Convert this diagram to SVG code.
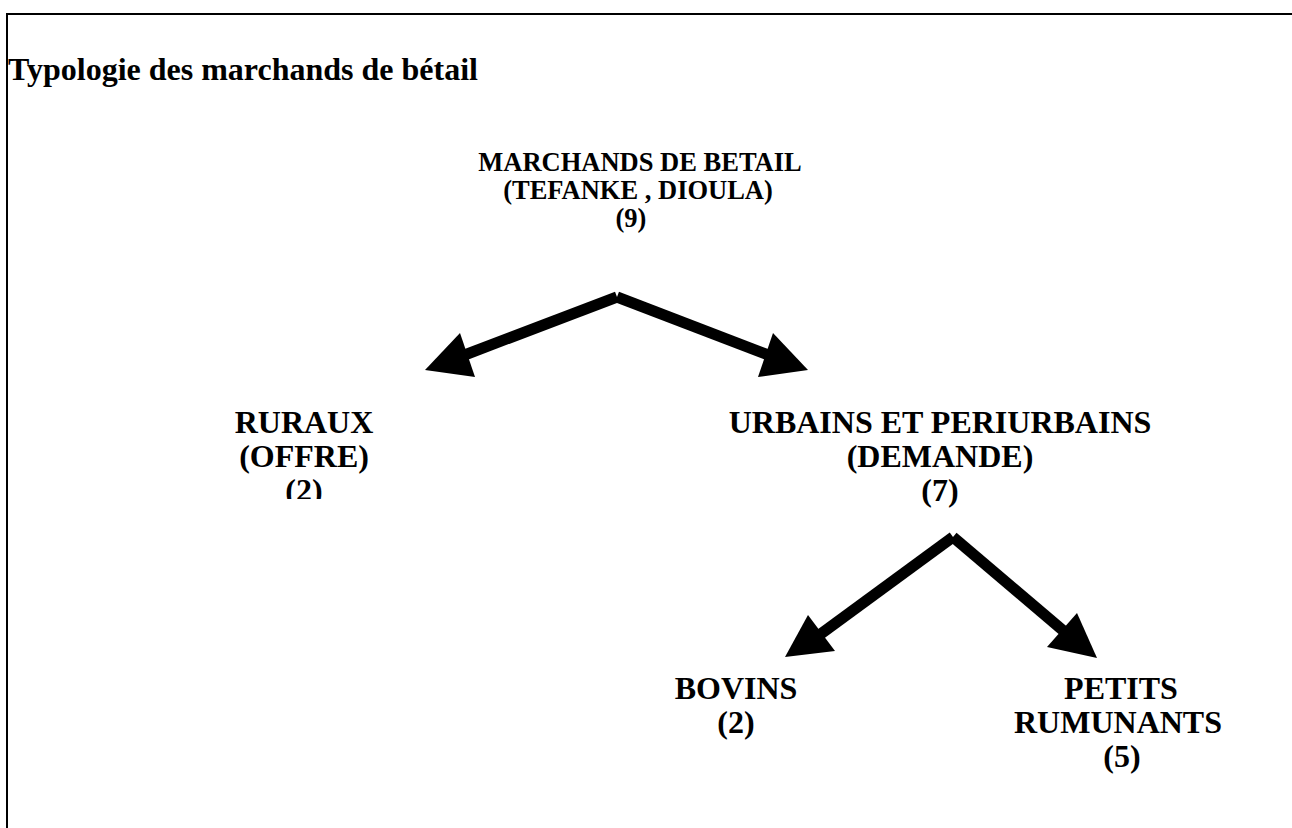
<svg xmlns="http://www.w3.org/2000/svg" width="1292" height="828" viewBox="0 0 1292 828">
  <style>
    .frame { stroke: #000; stroke-width: 2; fill: none; }
    .title { font-family: "Liberation Serif", "Times New Roman", serif; font-weight: bold; font-size: 32px; fill: #000; }
    .lbl { font-family: "Liberation Serif", "Times New Roman", serif; font-weight: bold; font-size: 32px; fill: #000; text-anchor: middle; }
    .lbl-sm { font-family: "Liberation Serif", "Times New Roman", serif; font-weight: bold; font-size: 26.5px; fill: #000; text-anchor: middle; }
    .shaft { stroke: #000; stroke-width: 11; fill: none; stroke-linecap: butt; }
    .head { fill: #000; stroke: none; }
  </style>
  <defs>
    <!-- the RURAUX text box cuts off the bottom of its last line -->
    <clipPath id="clip-ruraux">
      <rect x="150" y="380" width="320" height="119"/>
    </clipPath>
  </defs>
  <rect width="1292" height="828" fill="#fff"/>

  <!-- page frame: top and left rules -->
  <g id="frame">
    <line class="frame" x1="6" y1="14" x2="1292" y2="14"/>
    <line class="frame" x1="7" y1="13" x2="7" y2="828"/>
  </g>

  <text id="title" class="title" x="8" y="80">Typologie des marchands de bétail</text>

  <g id="node-marchands">
    <text class="lbl-sm" x="640" y="171">MARCHANDS DE BETAIL</text>
    <text class="lbl-sm" x="638" y="199">(TEFANKE , DIOULA)</text>
    <text class="lbl-sm" x="631" y="227">(9)</text>
  </g>

  <g id="node-ruraux" clip-path="url(#clip-ruraux)">
    <text class="lbl" x="304" y="433">RURAUX</text>
    <text class="lbl" x="304" y="467">(OFFRE)</text>
    <text class="lbl" x="304" y="501">(2)</text>
  </g>

  <g id="node-urbains">
    <text class="lbl" x="940" y="433">URBAINS ET PERIURBAINS</text>
    <text class="lbl" x="940" y="467">(DEMANDE)</text>
    <text class="lbl" x="940" y="501">(7)</text>
  </g>

  <g id="node-bovins">
    <text class="lbl" x="736" y="699">BOVINS</text>
    <text class="lbl" x="736" y="733">(2)</text>
  </g>

  <g id="node-petits">
    <text class="lbl" x="1121" y="699">PETITS</text>
    <text class="lbl" x="1118" y="733">RUMUNANTS</text>
    <text class="lbl" x="1122" y="767">(5)</text>
  </g>

  <!-- connectors -->
  <g id="connectors">
    <line class="shaft" x1="617" y1="297" x2="462" y2="356"/>
    <polygon class="head" points="425,370 460,333 475,377"/>
    <line class="shaft" x1="617" y1="297" x2="771" y2="356"/>
    <polygon class="head" points="808,370 773,333 758,377"/>

    <line class="shaft" x1="953" y1="537" x2="818" y2="636"/>
    <polygon class="head" points="785,657 808,615 835,651"/>
    <line class="shaft" x1="953" y1="537" x2="1066" y2="633"/>
    <polygon class="head" points="1097,658 1077,613 1047,647"/>
  </g>
</svg>
